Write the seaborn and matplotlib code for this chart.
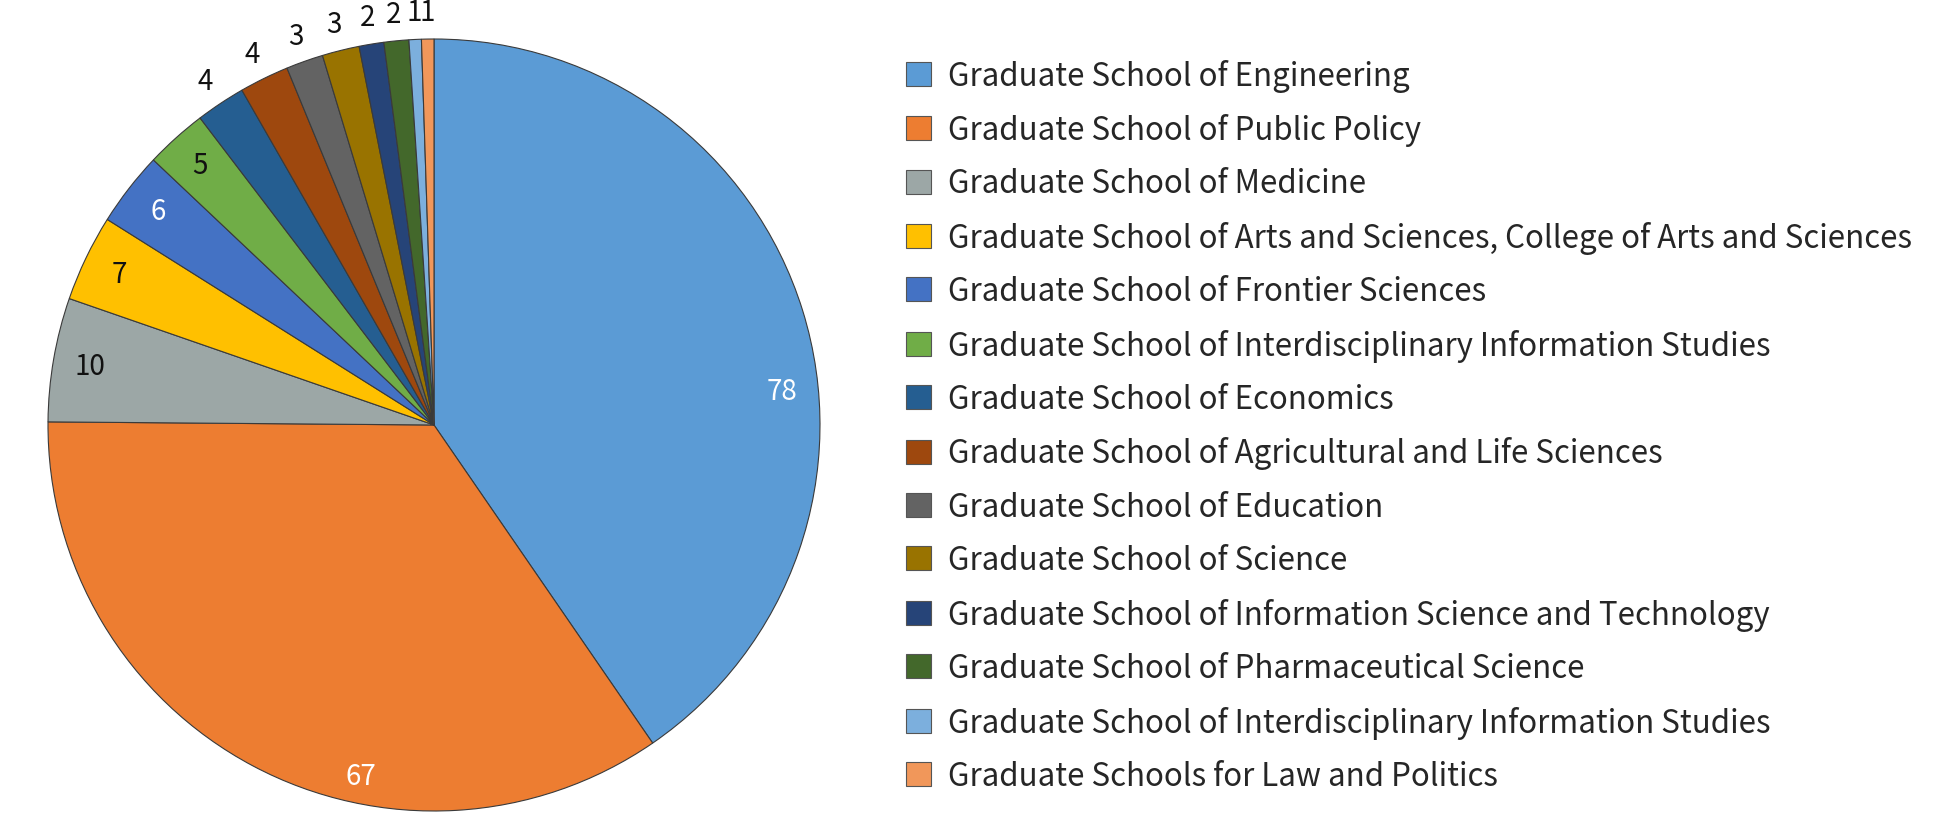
import numpy as np
import matplotlib.pyplot as plt
import seaborn as sns

# Data
schools = [
    "Graduate School of Engineering",
    "Graduate School of Public Policy",
    "Graduate School of Medicine",
    "Graduate School of Arts and Sciences, College of Arts and Sciences",
    "Graduate School of Frontier Sciences",
    "Graduate School of Interdisciplinary Information Studies",
    "Graduate School of Economics",
    "Graduate School of Agricultural and Life Sciences",
    "Graduate School of Education",
    "Graduate School of Science",
    "Graduate School of Information Science and Technology",
    "Graduate School of Pharmaceutical Science",
    "Graduate School of Interdisciplinary Information Studies",
    "Graduate Schools for Law and Politics",
]
counts = [78, 67, 10, 7, 6, 5, 4, 4, 3, 3, 2, 2, 1, 1]

colors = sns.color_palette([
    "#5B9BD5", "#ED7D31", "#9CA7A6", "#FFC000", "#4472C4", "#70AD47",
    "#255E91", "#9E480E", "#636363", "#997300", "#264478", "#43682B",
    "#7CAFDD", "#F1975A",
])
white_labels = {0, 1, 4}
# where the label sits inside its slice (0 = start, 1 = end of the arc)
label_frac = {0: 0.58, 1: 0.37}
label_dist = {0: 0.905, 1: 0.93}

sns.set_theme(style="white")
plt.rcParams['font.family'] = ['Noto Sans CJK JP', 'DejaVu Sans']

fig = plt.figure(figsize=(19.6, 8.2), dpi=100)
W, H = 1960, 820
cx, cy, r = 434, 426, 386
ax = fig.add_axes([(cx - r) / W, (H - cy - r) / H, 2 * r / W, 2 * r / H])

wedges, _ = ax.pie(counts, colors=colors, startangle=90, counterclock=False,
                   wedgeprops=dict(edgecolor="#3a3a3a", linewidth=0.8))
ax.set_xlim(-1, 1)
ax.set_ylim(-1, 1)
ax.set_aspect("equal")
ax.axis("off")

# value labels: inside for big slices, outside for small ones
for i, (w, v) in enumerate(zip(wedges, counts)):
    f = label_frac.get(i, 0.5)
    # counterclock=False: theta2 is the start of the slice
    mid = np.deg2rad(w.theta2 + (w.theta1 - w.theta2) * f)
    dist = label_dist.get(i, 0.905 if v >= 5 else 1.07)
    ax.text(dist * np.cos(mid), dist * np.sin(mid), str(v),
            ha="center", va="center", fontsize=20,
            color="white" if i in white_labels else "#111111", clip_on=False)

leg = fig.legend(wedges, schools, loc="upper left",
                 bbox_to_anchor=(890 / W, 1 - 44 / H), frameon=False,
                 fontsize=22.5, handlelength=0.8, handleheight=0.8,
                 handletextpad=0.55, labelspacing=0.685, borderpad=0)
for h in leg.legend_handles:
    h.set_edgecolor("#555555")
    h.set_linewidth(0.8)

fig.savefig("out.png", dpi=100)
